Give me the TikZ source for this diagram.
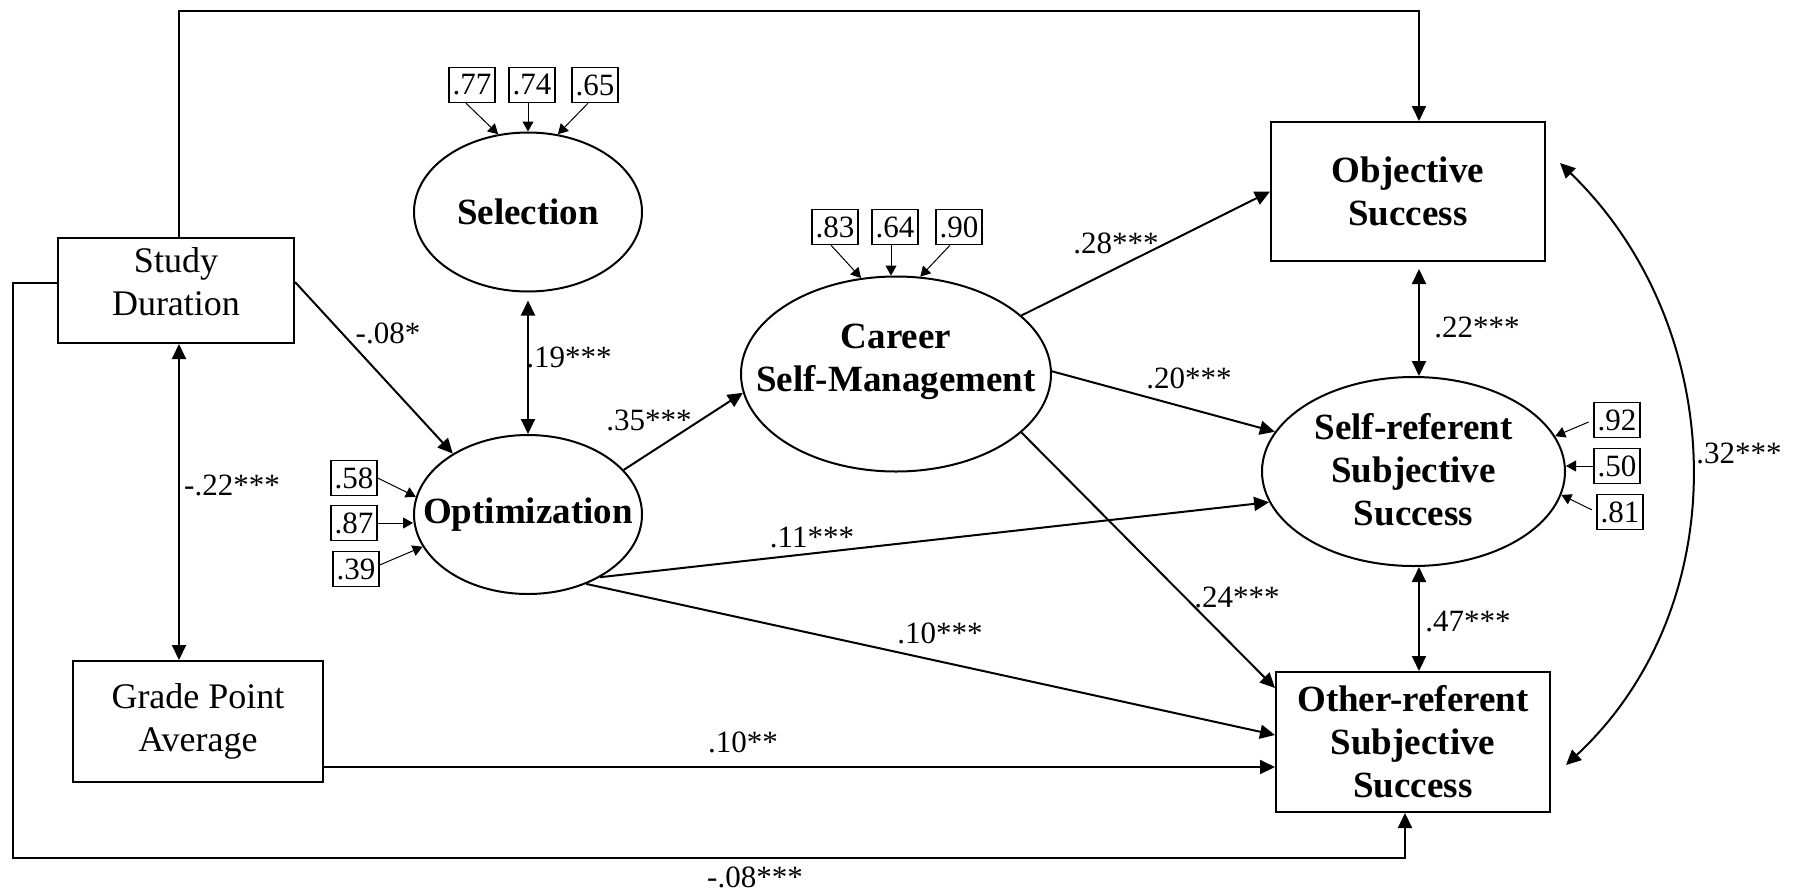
\documentclass[tikz,border=0pt]{standalone}
\usepackage{fontspec}
\setmainfont{Liberation Serif}
\usetikzlibrary{arrows.meta,shapes.geometric,calc}
\newcommand\regfont{\fontsize{18}{21.5}\selectfont}
\newcommand\boldfnt{\fontsize{18.5}{21.5}\selectfont\bfseries}
\newcommand\coeffont{\fontsize{15.5}{18}\selectfont}
\begin{document}
\begin{tikzpicture}[x=0.5pt,y=-0.5pt,
  mainline/.style={line width=1pt},
  arr/.style={mainline,-{Triangle[length=7.5pt,width=7pt]}},
  darr/.style={mainline,{Triangle[length=7.5pt,width=7pt]}-{Triangle[length=7.5pt,width=7pt]}},
  sarr/.style={line width=0.5pt,-{Triangle[length=5pt,width=5.5pt]}},
  rbox/.style={draw,line width=1pt,rectangle,align=center,font=\regfont},
  bbox/.style={draw,line width=1pt,rectangle,align=center,font=\boldfnt},
  lat/.style={draw,ellipse,line width=1pt,inner sep=0pt},
  lattext/.style={font=\boldfnt,align=center,inner sep=0pt},
  sbox/.style={draw,line width=0.7pt,inner sep=1pt,font=\coeffont,minimum width=23pt,minimum height=17.5pt},
  coef/.style={font=\coeffont,inner sep=0pt}]
\useasboundingbox (0,0) rectangle (1795,895);

% observed variables
\node[rbox,minimum width=118pt,minimum height=52.5pt,
  label={[name=sdt,font=\regfont,align=center,inner sep=0pt,yshift=4.25pt]center:Study\\Duration}] (sd) at (176,290.5) {};
\node[rbox,minimum width=125pt,minimum height=60.5pt] (gpa) at (198,721.5) {Grade Point\\Average};
\node[bbox,minimum width=137pt,minimum height=69.5pt] (obj) at (1408,191.5) {Objective\\Success};
\node[bbox,minimum width=137pt,minimum height=70pt] (ors) at (1413,742) {Other-referent\\Subjective\\Success};

% latent variables
\node[lat,minimum width=114pt,minimum height=79.5pt,
  label={[name=selt,lattext]center:Selection}] (sel) at (528,212) {};
\node[lat,minimum width=114pt,minimum height=79.5pt,
  label={[name=optt,lattext]center:Optimization}] (opt) at (528,514.5) {};
\node[lat,minimum width=155pt,minimum height=97.5pt,
  label={[name=csmt,lattext,yshift=6pt]center:Career\\Self-Management}] (csm) at (896,374) {};
\node[lat,minimum width=151.5pt,minimum height=94.5pt,
  label={[name=srst,lattext,yshift=0.75pt]center:Self-referent\\Subjective\\Success}] (srs) at (1413.5,471.5) {};

% indicator loadings
\node[sbox] (s77) at (472,85) {.77};
\node[sbox] (s74) at (532,85) {.74};
\node[sbox] (s65) at (595,85) {.65};
\node[sbox] (s83) at (835,227) {.83};
\node[sbox] (s64) at (895,227) {.64};
\node[sbox] (s90) at (959,227) {.90};
\node[sbox] (s58) at (354,478) {.58};
\node[sbox] (s87) at (354,523) {.87};
\node[sbox] (s39) at (356,569) {.39};
\node[sbox] (s92) at (1617,420) {.92};
\node[sbox] (s50) at (1617,466) {.50};
\node[sbox] (s81) at (1620,512) {.81};

\draw[sarr] ([xshift=-3pt]s77.south) -- (sel.111);
\draw[sarr] ([xshift=-2pt]s74.south) -- ([xshift=-2pt]s74.south |- sel.north);
\draw[sarr] ([xshift=-3.5pt]s65.south) -- (sel.69);
\draw[sarr] ([xshift=-2pt]s83.south) -- (csm.110);
\draw[sarr] ([xshift=-2pt]s64.south) -- ([xshift=-2pt]s64.south |- csm.north);
\draw[sarr] ([xshift=-4.5pt]s90.south) -- (csm.76);
\draw[sarr] (s58.east) -- (opt.171);
\draw[sarr] (s87.east) -- (s87.east -| opt.west);
\draw[sarr] ([yshift=2pt]s39.east) -- (opt.197);
\draw[sarr,shorten <=2.5pt] (s92.west) -- (srs.14);
\draw[sarr] (s50.west) -- (s50.west -| srs.east);
\draw[sarr,shorten <=2.5pt] (s81.west) -- (srs.-9);

% structural paths
\coordinate (lc) at (12.5,858);
\draw[arr] ([xshift=1.5pt]sd.north) -- ([xshift=1.5pt]sd.north |- 0,10.7) -| ([xshift=5.5pt]obj.north);
\draw[arr] ([yshift=3.75pt]sd.west) -| (lc) -| ([xshift=-4pt]ors.south);
\draw[darr] ([xshift=1.5pt]sd.south) -- ([xshift=1.5pt]sd.south |- gpa.north);
\draw[arr] ([yshift=4.25pt]sd.east) -- (opt.141);
\draw[darr,shorten <=4pt] (sel.south) -- (sel.south |- opt.north);
\draw[arr] (opt.25) -- (csm.187);
\draw[arr] (csm.25) -- (obj.west);
\draw[arr] (csm.1) -- (srs.164);
\draw[arr] (csm.-25) -- ([yshift=27pt]ors.west);
\draw[arr] (opt.-41) -- (srs.192);
\draw[arr] (opt.-50) -- ([yshift=3.5pt]ors.west);
\draw[arr] ([yshift=-22.75pt]gpa.east) -- ([yshift=-22.75pt]gpa.east -| ors.west);
\draw[darr,shorten <=3.5pt] ([xshift=5.5pt]obj.south) -- ([xshift=5.5pt]obj.south |- srs.north);
\draw[darr] ([xshift=3pt]ors.north |- srs.south) -- ([xshift=3pt]ors.north);
\draw[darr] ([xshift=7pt,yshift=14.25pt]obj.east) to[out=-44,in=43] ([xshift=7.5pt,yshift=-11.5pt]ors.east);

% coefficients
\node[coef] (c1) at (232,485) {-.22***};
\node[coef] (c2) at (388,333) {-.08*};
\node[coef] (c3) at (569,357) {.19***};
\node[coef] (c4) at (649,420) {.35***};
\node[coef] (c5) at (1116,243) {.28***};
\node[coef] (c6) at (1189,378) {.20***};
\node[coef] (c7) at (812,537) {.11***};
\node[coef] (c8) at (940,633) {.10***};
\node[coef] (c9) at (1237,597) {.24***};
\node[coef] (c10) at (743,742) {.10**};
\node[coef] (c11) at (755,877) {-.08***};
\node[coef] (c12) at (1477,327) {.22***};
\node[coef] (c13) at (1468,622) {.47***};
\node[coef] (c14) at (1739,453) {.32***};
\end{tikzpicture}
\end{document}
